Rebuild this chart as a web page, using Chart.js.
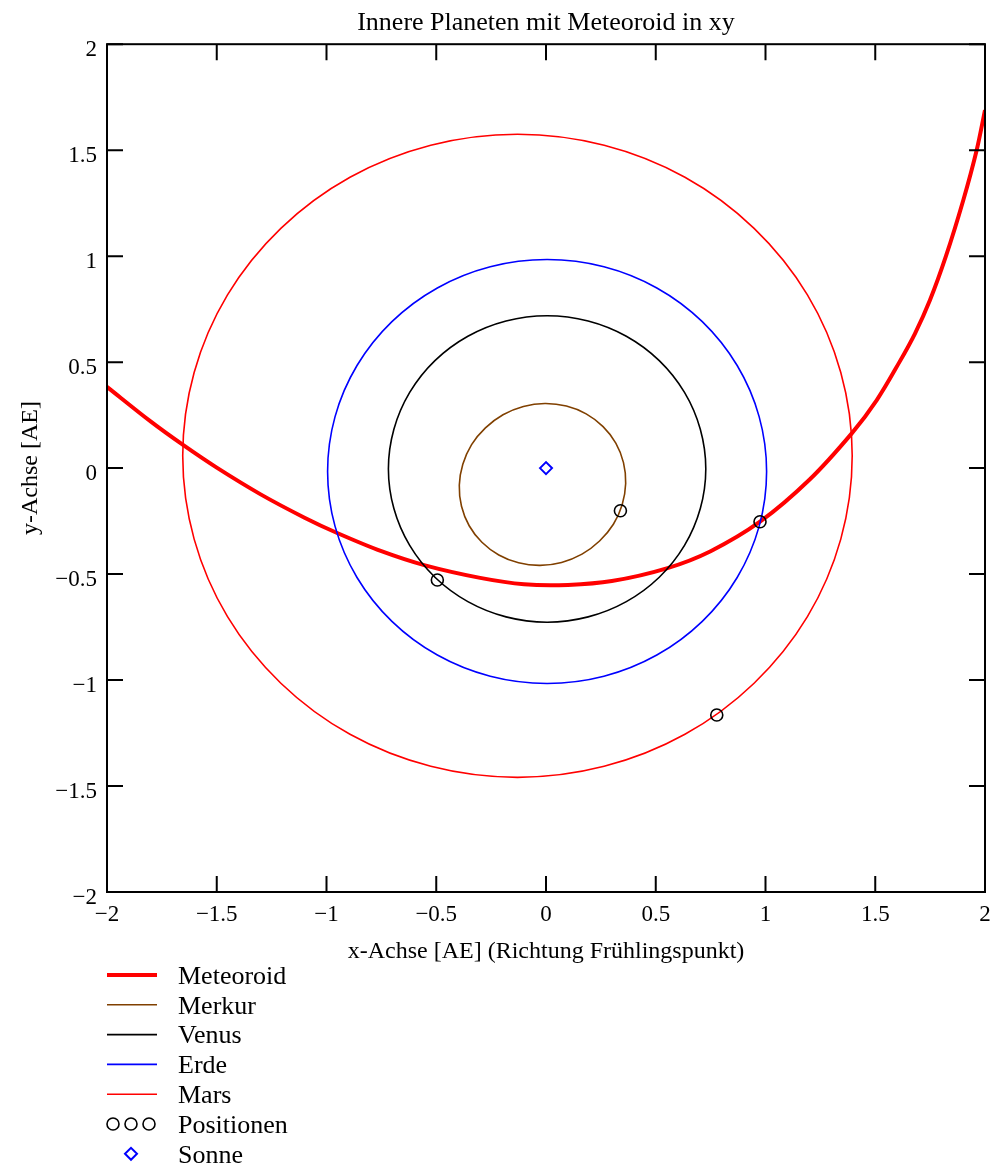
<!DOCTYPE html>
<html lang="de">
<head>
<meta charset="utf-8">
<title>Innere Planeten mit Meteoroid in xy</title>
<script src="https://cdn.jsdelivr.net/npm/chart.js@4.4.1/dist/chart.umd.min.js"></script>
<style>
  html, body { margin: 0; padding: 0; background: #fff; }
  #wrap { width: 995px; height: 1171px; }
</style>
</head>
<body>
<div id="wrap"><canvas id="bahnen" width="995" height="1171"></canvas></div>
<script>
// =====================================================
// Daten (Einheit AE)
// =====================================================

const meteoroidX = [-2.0, -1.8, -1.652, -1.5, -1.3, -1.1, -0.954, -0.75, -0.551, -0.3, -0.1, 0.1, 0.3, 0.55, 0.75, 0.975, 1.2, 1.393, 1.507, 1.61, 1.681, 1.749, 1.822, 1.901, 1.962, 2.0];
const meteoroidY = [0.383, 0.219, 0.108, 0.002, -0.124, -0.234, -0.305, -0.392, -0.459, -0.518, -0.548, -0.551, -0.533, -0.473, -0.392, -0.253, -0.055, 0.164, 0.321, 0.5, 0.635, 0.792, 1.0, 1.264, 1.5, 1.689];

// Bahnen: geschlossene Kurven (letzter Punkt wird mit dem ersten verbunden)
const merkurX = [0.363, 0.353, 0.318, 0.260, 0.183, 0.093, -0.005, -0.103, -0.196, -0.276, -0.339, -0.379, -0.395, -0.385, -0.350, -0.292, -0.215, -0.125, -0.027, 0.071, 0.164, 0.244, 0.307, 0.347];
const merkurY = [-0.073, 0.026, 0.118, 0.196, 0.256, 0.293, 0.305, 0.291, 0.252, 0.190, 0.111, 0.018, -0.081, -0.180, -0.272, -0.350, -0.410, -0.447, -0.459, -0.445, -0.406, -0.344, -0.265, -0.173];

const venusX = [0.728, 0.703, 0.631, 0.516, 0.366, 0.192, 0.005, -0.182, -0.356, -0.506, -0.621, -0.693, -0.718, -0.693, -0.621, -0.506, -0.356, -0.182, 0.005, 0.192, 0.366, 0.516, 0.631, 0.703];
const venusY = [-0.004, 0.183, 0.357, 0.507, 0.622, 0.694, 0.719, 0.694, 0.622, 0.507, 0.357, 0.183, -0.004, -0.191, -0.365, -0.515, -0.630, -0.702, -0.727, -0.702, -0.630, -0.515, -0.365, -0.191];

const erdeX = [1.005, 0.971, 0.871, 0.712, 0.505, 0.264, 0.005, -0.254, -0.495, -0.702, -0.861, -0.961, -0.995, -0.961, -0.861, -0.702, -0.495, -0.254, 0.005, 0.264, 0.505, 0.712, 0.871, 0.971];
const erdeY = [-0.016, 0.243, 0.484, 0.691, 0.850, 0.950, 0.984, 0.950, 0.850, 0.691, 0.484, 0.243, -0.016, -0.275, -0.516, -0.723, -0.882, -0.982, -1.016, -0.982, -0.882, -0.723, -0.516, -0.275];

const marsX = [1.395, 1.343, 1.191, 0.948, 0.633, 0.265, -0.130, -0.525, -0.893, -1.208, -1.451, -1.603, -1.655, -1.603, -1.451, -1.208, -0.893, -0.525, -0.130, 0.265, 0.633, 0.948, 1.191, 1.343];
const marsY = [0.058, 0.451, 0.817, 1.131, 1.372, 1.523, 1.575, 1.523, 1.372, 1.131, 0.817, 0.451, 0.058, -0.335, -0.701, -1.015, -1.256, -1.407, -1.459, -1.407, -1.256, -1.015, -0.701, -0.335];

// aktuelle Positionen: Venus, Merkur, Erde, Mars
const positionenX = [-0.495, 0.339, 0.975, 0.778];
const positionenY = [-0.528, -0.201, -0.253, -1.165];

const sonneX = [0];
const sonneY = [0];

const tickWerte = [-2, -1.5, -1, -0.5, 0, 0.5, 1, 1.5, 2];
const tickLabels = ["\u22122", "\u22121.5", "\u22121", "\u22120.5", "0", "0.5", "1", "1.5", "2"];

const legendeLabels = ["Meteoroid", "Merkur", "Venus", "Erde", "Mars", "Positionen", "Sonne"];

// =====================================================
// Darstellung
// =====================================================

const SCHRIFT = "'Liberation Serif', 'DejaVu Serif', serif";
Chart.defaults.font.family = SCHRIFT;
Chart.defaults.color = "#000";

const punkte = (xs, ys) => xs.map((x, i) => ({ x, y: ys[i] }));

function bahn(label, xs, ys, farbe, breite, order, geschlossen) {
  return {
    label, data: punkte(xs, ys), showLine: true, geschlossen,
    borderColor: farbe, backgroundColor: farbe, borderWidth: breite,
    pointRadius: 0, tension: 0.33, spanGaps: false, order
  };
}

// geschlossene Bahnen glatt schliessen (wie beim Radar-Chart)
const schliessen = {
  id: "schliessen",
  afterDatasetUpdate(chart, args) {
    const ds = chart.data.datasets[args.index];
    if (!ds.geschlossen) return;
    const line = args.meta.dataset;
    line._loop = true;
    line._fullLoop = true;
    delete line._segments;
    delete line._path;
    line._pointsUpdated = false;
  }
};

// Rahmen mit nach innen zeigenden Ticks auf allen vier Seiten
const rahmen = {
  id: "rahmen",
  afterDatasetsDraw(chart) {
    const { ctx, chartArea: a, scales: { x, y } } = chart;
    const len = 16;
    ctx.save();
    ctx.strokeStyle = "#000";
    ctx.lineWidth = 2;
    ctx.strokeRect(a.left, a.top, a.right - a.left, a.bottom - a.top);
    ctx.beginPath();
    x.ticks.forEach(t => {
      const px = x.getPixelForValue(t.value);
      ctx.moveTo(px, a.bottom); ctx.lineTo(px, a.bottom - len);
      ctx.moveTo(px, a.top); ctx.lineTo(px, a.top + len);
    });
    y.ticks.forEach(t => {
      const py = y.getPixelForValue(t.value);
      ctx.moveTo(a.left, py); ctx.lineTo(a.left + len, py);
      ctx.moveTo(a.right, py); ctx.lineTo(a.right - len, py);
    });
    ctx.stroke();
    ctx.restore();
  }
};

// Legende unterhalb der Achsenbeschriftung
const legende = {
  id: "legende",
  afterDraw(chart) {
    const { ctx } = chart;
    const x0 = chart.chartArea.left, x1 = x0 + 50, tx = 178;
    const y0 = 975, dy = 29.8;
    ctx.save();
    legendeLabels.forEach((name, i) => {
      const ds = chart.data.datasets.find(d => d.label === name);
      const y = y0 + i * dy;
      if (ds.showLine) {
        ctx.strokeStyle = ds.borderColor;
        ctx.lineWidth = ds.borderWidth;
        ctx.beginPath();
        ctx.moveTo(x0, y); ctx.lineTo(x1, y);
        ctx.stroke();
      } else {
        const opts = { pointStyle: ds.pointStyle, radius: ds.pointRadius, borderWidth: ds.borderWidth };
        ctx.strokeStyle = ds.borderColor;
        ctx.fillStyle = "rgba(0,0,0,0)";
        ctx.lineWidth = ds.borderWidth;
        const xs = name === "Positionen" ? [x0 + 6, x0 + 24, x0 + 42] : [x0 + 24];
        xs.forEach(px => Chart.helpers.drawPoint(ctx, opts, px, y));
      }
      ctx.fillStyle = "#000";
      ctx.font = "26px " + SCHRIFT;
      ctx.textBaseline = "middle";
      ctx.textAlign = "left";
      ctx.fillText(name, tx, y + 2);
    });
    ctx.restore();
  }
};

const achse = (titel, titelPadding, fit, extra) => Object.assign({
  type: "linear", min: -2, max: 2,
  afterBuildTicks: s => { s.ticks = tickWerte.map(v => ({ value: v })); },
  ticks: {
    callback: (v, i) => tickLabels[i],
    font: { size: 23 }, color: "#000", autoSkip: false, maxRotation: 0
  },
  grid: { display: false, drawTicks: false },
  border: { display: false },
  title: { display: true, text: titel, font: { size: 24 }, color: "#000", padding: titelPadding },
  afterFit: fit
}, extra);

const xAchse = achse("x-Achse [AE] (Richtung Frühlingspunkt)", { top: 0, bottom: 6 },
  s => { s.height = 80; s.paddingLeft = 0; s.paddingRight = 0; }, { position: "bottom" });
xAchse.ticks.padding = 9;
const yAchse = achse("y-Achse [AE]", { top: 16, bottom: 0 }, s => { s.width = 107; }, { position: "left" });
yAchse.ticks.padding = 10;
yAchse.ticks.labelOffset = 6;

new Chart(document.getElementById("bahnen"), {
  type: "scatter",
  data: {
    datasets: [
      bahn("Meteoroid", meteoroidX, meteoroidY, "#ff0000", 4, 10, false),
      bahn("Merkur", merkurX, merkurY, "#804000", 1.6, 5, true),
      bahn("Venus", venusX, venusY, "#000000", 1.6, 5, true),
      bahn("Erde", erdeX, erdeY, "#0000ff", 1.6, 5, true),
      bahn("Mars", marsX, marsY, "#ff0000", 1.6, 5, true),
      {
        label: "Positionen", data: punkte(positionenX, positionenY), showLine: false,
        pointStyle: "circle", pointRadius: 6, borderColor: "#000", borderWidth: 1.6,
        backgroundColor: "rgba(0,0,0,0)", order: 1
      },
      {
        label: "Sonne", data: punkte(sonneX, sonneY), showLine: false,
        pointStyle: "rectRot", pointRadius: 6, borderColor: "#0000ff", borderWidth: 2,
        backgroundColor: "rgba(0,0,0,0)", order: 1
      }
    ]
  },
  options: {
    responsive: false,
    animation: false,
    layout: { padding: { left: 0, right: 10, top: 0, bottom: 199 } },
    plugins: {
      legend: { display: false },
      tooltip: { enabled: false },
      title: {
        display: true, text: "Innere Planeten mit Meteoroid in xy", fullSize: false,
        font: { size: 26, weight: "normal" }, color: "#000",
        padding: { top: 8, bottom: 5 }
      }
    },
    scales: { x: xAchse, y: yAchse }
  },
  plugins: [schliessen, rahmen, legende]
});
</script>
</body>
</html>
